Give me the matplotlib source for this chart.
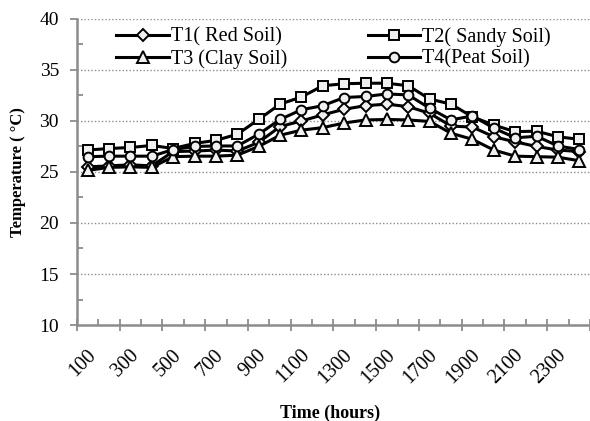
import matplotlib.pyplot as plt
import numpy as np
from matplotlib.ticker import FixedLocator, MultipleLocator

plt.rcParams["font.family"] = ["Liberation Serif", "DejaVu Serif"]

hours = [100, 200, 300, 400, 500, 600, 700, 800, 900, 1000, 1100, 1200,
         1300, 1400, 1500, 1600, 1700, 1800, 1900, 2000, 2100, 2200, 2300, 2400]
t1_red = [25.5, 25.6, 25.7, 25.6, 27.0, 27.05, 27.15, 27.05, 27.9, 29.45, 30.0, 30.6,
          31.15, 31.5, 31.65, 31.4, 30.75, 29.5, 29.4, 28.45, 27.95, 27.5, 27.15, 27.0]
t2_sandy = [27.15, 27.3, 27.4, 27.6, 27.3, 27.8, 28.1, 28.7, 30.15, 31.65, 32.35, 33.45,
            33.65, 33.7, 33.7, 33.45, 32.15, 31.65, 30.4, 29.6, 28.95, 29.0, 28.45, 28.2]
t3_clay = [25.15, 25.45, 25.5, 25.45, 26.5, 26.55, 26.55, 26.65, 27.5, 28.6, 29.1, 29.35,
           29.8, 30.1, 30.15, 30.1, 29.95, 28.8, 28.2, 27.15, 26.55, 26.5, 26.45, 26.1]
t4_peat = [26.5, 26.55, 26.55, 26.55, 27.2, 27.5, 27.55, 27.55, 28.7, 30.15, 31.1, 31.5,
           32.3, 32.4, 32.65, 32.55, 31.25, 30.1, 30.5, 29.3, 28.35, 28.5, 27.55, 27.2]

series = [
    ("T1( Red Soil)", t1_red, "D", 6),
    ("T2( Sandy Soil)", t2_sandy, "s", 7),
    ("T3 (Clay Soil)", t3_clay, "^", 8),
    ("T4(Peat Soil)", t4_peat, "o", 7),
]

fig = plt.figure(figsize=(5.9, 4.21), dpi=100)
ax = fig.add_axes([0.1305, 0.228, 0.8695, 0.727])

x = np.arange(len(hours))
handles = {}
for label, vals, marker, ms in series:
    (h,) = ax.plot(x, vals, color="black", lw=2.2, marker=marker, ms=ms,
                   mfc="#f0f0f0", mec="black", mew=1.4, label=label, zorder=3)
    handles[label] = h

ax.set_xlim(-0.5, len(hours) - 0.5)
ax.set_ylim(10, 40)

grey = "#8c8c8c"
ax.yaxis.set_major_locator(MultipleLocator(5))
ax.yaxis.set_minor_locator(MultipleLocator(2.5))
ax.grid(axis="y", which="major", linestyle=(0, (1, 1.5)), color=grey, lw=1.0, zorder=1)

# category boundaries get the tick marks, labels sit at every other category
ax.xaxis.set_major_locator(FixedLocator(np.arange(-0.5, len(hours), 2)))
ax.xaxis.set_minor_locator(FixedLocator(np.arange(0.5, len(hours), 2)))
ax.set_xticklabels([])
for i in range(0, len(hours), 2):
    ax.text(i - 0.07, 8.0, str(hours[i]), rotation=45, ha="right", va="top",
            rotation_mode="anchor", fontsize=14.5)

for side in ("top", "right"):
    ax.spines[side].set_visible(False)
for side in ("left", "bottom"):
    ax.spines[side].set_color(grey)
    ax.spines[side].set_linewidth(1.8)

ax.tick_params(axis="y", which="major", direction="out", length=5, width=1.3,
               color=grey, labelsize=14, pad=8)
ax.tick_params(axis="y", which="minor", direction="in", length=4, width=1.3, color=grey)
ax.tick_params(axis="x", which="major", direction="inout", length=9, width=1.3, color=grey)
ax.tick_params(axis="x", which="minor", direction="in", length=4, width=1.3, color=grey)

ax.set_ylabel("Temperature ( \u00b0C)", fontsize=12, fontweight="bold")
ax.yaxis.set_label_coords(-0.10, 0.5)
fig.text(0.56, 0.017, "Time (hours)", ha="center", va="center",
         fontsize=13, fontweight="bold")

order = ["T1( Red Soil)", "T3 (Clay Soil)", "T2( Sandy Soil)", "T4(Peat Soil)"]
leg = ax.legend([handles[k] for k in order], order, ncol=2, loc="upper center",
                bbox_to_anchor=(0.5, 0.987), frameon=False, fontsize=14.5,
                handlelength=2.6, handletextpad=0.1, columnspacing=4.0,
                labelspacing=0.15, borderaxespad=0.0, borderpad=0.2)

fig.savefig("out.png", dpi=100)
